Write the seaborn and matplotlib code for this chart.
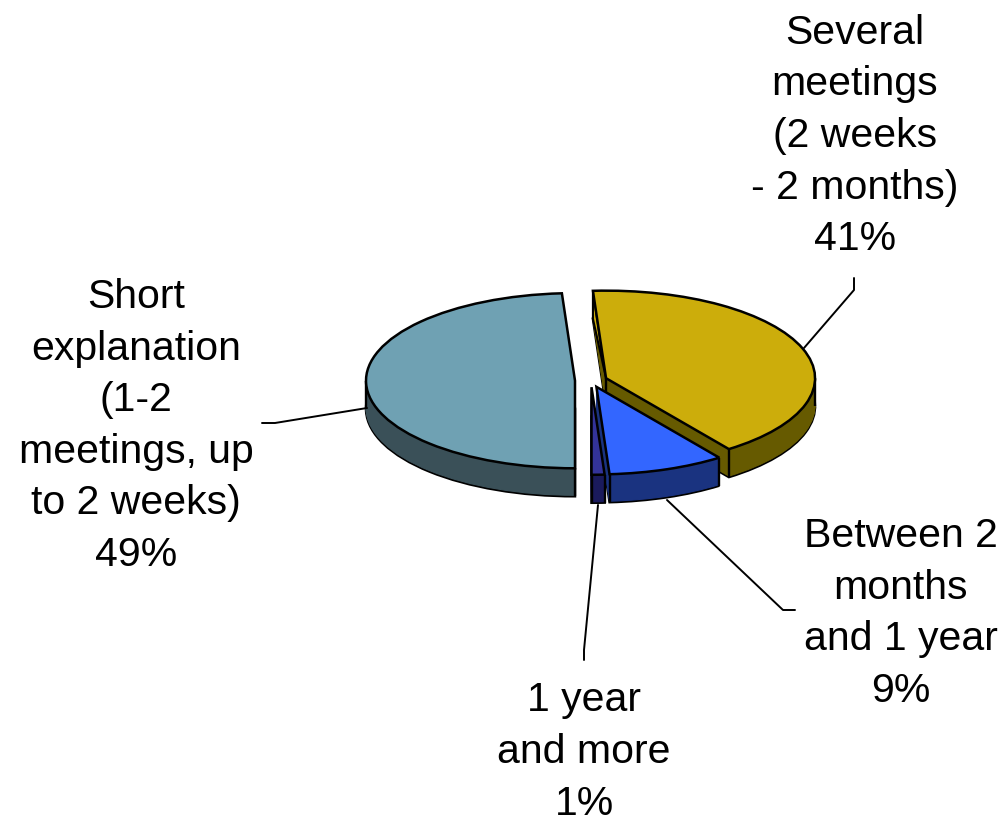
import numpy as np
import matplotlib
matplotlib.use("Agg")
import matplotlib.pyplot as plt
from matplotlib.patches import Polygon
from matplotlib.transforms import IdentityTransform
import seaborn as sns

categories = ["Several\nmeetings\n(2 weeks\n- 2 months)", "Between 2\nmonths\nand 1 year",
              "1 year\nand more", "Short\nexplanation\n(1-2\nmeetings, up\nto 2 weeks)"]
values = [41, 9, 1, 49]
top_colors = ["#CCAD0B", "#3366FF", "#333399", "#6FA1B3"]
wall_colors = ["#665A00", "#1A3380", "#1A1A5C", "#3A5058"]

W, H = 1006, 824
KY = 88 / 210          # vertical squash of the tilted pie
RADIUS = 209
DEPTH = 28             # px
CX, CY = 591, 380.5    # px
EXPL = 16              # px along x-scale
START = 93.6

sns.set_theme(style="white")
plt.rcParams["font.family"] = ["Liberation Sans", "DejaVu Sans"]

fig = plt.figure(figsize=(W / 100, H / 100), dpi=100)
ax = fig.add_axes([0, 0, 1, 1])

def to_data_y(py):
    return (H - py) / KY

order_z = [2, 3, 4, 1]
top_pal = sns.color_palette(top_colors)
wall_pal = sns.color_palette(wall_colors)

def layer(d, colors, ec=None, lw=1.0, dz=0.0):
    wedges, _ = ax.pie(values, colors=colors, startangle=START, counterclock=False,
                       radius=RADIUS, center=(CX, to_data_y(CY + d)),
                       explode=[EXPL] * len(values), normalize=True, frame=False,
                       wedgeprops=dict(linewidth=lw))
    for i, w in enumerate(wedges):
        w.set_edgecolor(ec if ec is not None else wall_pal[i])
        w.set_zorder(order_z[i] * 10 + dz)
    return wedges

layer(DEPTH, wall_pal, ec="black", lw=1.8, dz=0)
for d in range(DEPTH - 1, 0, -1):
    layer(d, wall_pal, lw=0.8, dz=(DEPTH - d) / DEPTH * 5)
tops = layer(0, top_pal, ec="black", lw=1.8, dz=8)

# vertical edges of the walls, taken from the wedges the library made
def rim(w, deg):
    a = np.deg2rad(deg)
    return w.center[0] + w.r * np.cos(a), w.center[1] + w.r * np.sin(a)

def drop(x, y, z):
    ax.plot([x, x], [y, y - DEPTH / KY], color="black", lw=1.7, zorder=z, solid_capstyle="butt")

several, between, oneyear, short = tops
drop(*rim(several, min(several.theta1, several.theta2)), 27)
drop(*rim(several, 0), 27)
drop(*several.center, 27)
drop(*rim(between, between.theta1), 37)
drop(*rim(between, between.theta2), 37)
drop(*rim(oneyear, oneyear.theta1), 47)
drop(*rim(oneyear, oneyear.theta2), 47)
drop(*rim(short, 180), 17)
drop(*rim(short, short.theta2 if abs(short.theta2 + 90) < 5 or abs(short.theta2 - 270) < 5 else short.theta1), 17)

# lit cut face of the large wedge
sx, sy = rim(several, max(several.theta1, several.theta2))
ax.add_patch(Polygon([(sx, sy), (sx, sy - DEPTH / KY), several.center], closed=True,
                     facecolor=top_pal[0], edgecolor="black", lw=1.5, zorder=27))

ax.set_aspect("auto")
ax.set_xlim(0, W)
ax.set_ylim(0, H / KY)
ax.axis("off")

# leader lines and labels in pixel space
px = IdentityTransform()
leaders = [([804, 854, 854], [348, 290, 278]),
           ([667, 783, 795], [500, 610, 610]),
           ([598, 584, 584], [505, 650, 660]),
           ([367, 275, 262], [408, 423, 423])]
for xs, ys in leaders:
    fig.add_artist(plt.Line2D(xs, [H - y for y in ys], color="black", lw=1.4, transform=px))

label_pos = [(855, 136), (901, 613.5), (584, 752), (136, 426)]
for cat, v, (x, y) in zip(categories, values, label_pos):
    fig.text(x, H - y, f"{cat}\n{v}%", transform=px, ha="center", va="center",
             multialignment="center", fontsize=29.5, color="black", linespacing=1.455)

fig.savefig("out.png", dpi=100, facecolor="white")
